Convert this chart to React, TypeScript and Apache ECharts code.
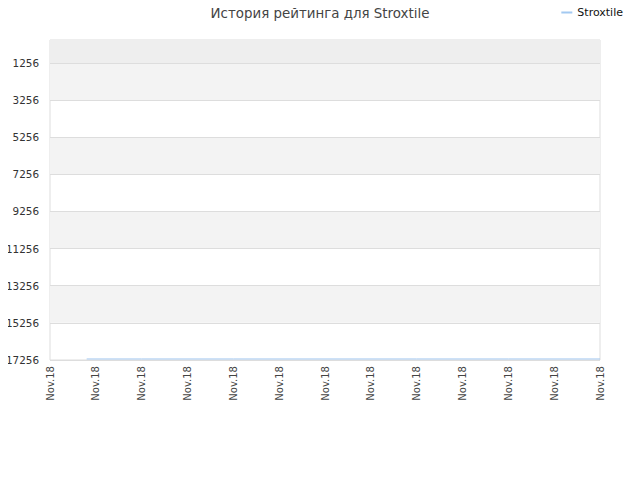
import React, { useEffect, useRef } from "react";
import * as echarts from "echarts";

const xTickLabels = ["Nov.18", "Nov.18", "Nov.18", "Nov.18", "Nov.18", "Nov.18", "Nov.18", "Nov.18", "Nov.18", "Nov.18", "Nov.18", "Nov.18", "Nov.18"];
const yTickValues = [1256, 3256, 5256, 7256, 9256, 11256, 13256, 15256, 17256];
const seriesX = [0.8, 2, 4, 6, 8, 10, 12];
const seriesY = [17200, 17200, 17200, 17200, 17200, 17200, 17200];
const yMin = 17;
const yMax = 17256;

export default function App() {
  const ref = useRef<HTMLDivElement>(null);
  useEffect(() => {
    const chart = echarts.init(ref.current!, null, { renderer: "svg" });
    const bands: any[] = [];
    bands.push([{ yAxis: yMin, itemStyle: { color: "#eeeeee", opacity: 1 } }, { yAxis: yTickValues[0] }]);
    for (let i = 0; i < yTickValues.length - 1; i++) {
      if (i % 2 === 0) {
        bands.push([{ yAxis: yTickValues[i], itemStyle: { color: "#f3f3f3", opacity: 1 } }, { yAxis: yTickValues[i + 1] }]);
      }
    }
    chart.setOption({
      animation: false,
      title: {
        text: "История рейтинга для Stroxtile",
        left: "center",
        top: 2,
        textStyle: { fontSize: 13.4, fontWeight: "normal", color: "#444", fontFamily: "DejaVu Sans" },
      },
      legend: {
        right: 12,
        top: 2,
        itemWidth: 11,
        itemHeight: 2,
        itemGap: 8,
        icon: "rect",
        textStyle: { fontSize: 11, color: "#111", fontFamily: "DejaVu Sans" },
        data: ["Stroxtile"],
      },
      grid: { left: 50, right: 40, top: 40, bottom: 120, show: true, borderColor: "#dddddd", borderWidth: 1, backgroundColor: "#ffffff" },
      xAxis: {
        type: "value",
        min: 0,
        max: xTickLabels.length - 1,
        interval: 1,
        axisLine: { show: false },
        axisTick: { show: false },
        splitLine: { show: false },
        axisLabel: {
          rotate: 90,
          fontSize: 10,
          color: "#444",
          fontFamily: "DejaVu Sans",
          margin: 6,
          formatter: (v: number) => xTickLabels[Math.round(v)] ?? "",
        },
      },
      yAxis: {
        type: "value",
        inverse: true,
        min: yMin,
        max: yMax,
        axisLine: { show: false },
        axisTick: { show: false, customValues: yTickValues },
        splitLine: { show: false },
        axisLabel: {
          customValues: yTickValues,
          fontSize: 10.4,
          color: "#333",
          fontFamily: "DejaVu Sans",
          margin: 11,
          formatter: (v: number) => String(v),
        },
      },
      series: [
        {
          name: "Stroxtile",
          type: "line",
          data: seriesX.map((x, i) => [x, seriesY[i]]),
          showSymbol: false,
          symbol: "none",
          lineStyle: { color: "#a3c9f1", width: 1 },
          itemStyle: { color: "#a3c9f1" },
          z: 5,
          markArea: { silent: true, data: bands },
          markLine: {
            silent: true,
            symbol: "none",
            label: { show: false },
            lineStyle: { color: "#dddddd", type: "solid", width: 1 },
            data: yTickValues.map((v) => ({ yAxis: v })),
          },
        },
      ],
    });
    return () => chart.dispose();
  }, []);
  return <div ref={ref} style={{ width: 640, height: 480, margin: -8 }} />;
}
